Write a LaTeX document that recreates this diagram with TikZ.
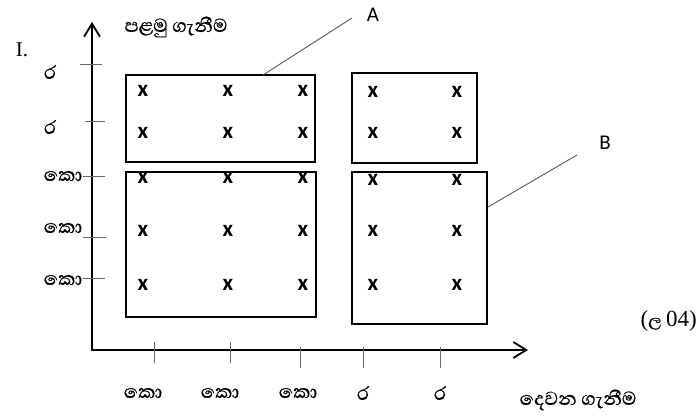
\documentclass[tikz,border=0pt]{standalone}
\usepackage{fontspec}
\setmainfont{Liberation Serif}
\newfontfamily\sinhalafont[Script=Sinhala,FakeBold=0.6]{Abhaya Libre}
\newfontfamily\sansx{Carlito}
\usetikzlibrary{arrows.meta,calc}
\begin{document}
\begin{tikzpicture}[x=1pt,y=-1pt,
  axisline/.style={line width=2pt, -{Straight Barb[length=13pt,width=16pt,line width=1.8pt]}},
  region/.style={draw, line width=1.3pt, rectangle, inner sep=0pt, outer sep=0pt, anchor=north west},
  tickmark/.style={draw=black!60, line width=1pt},
  leader/.style={draw=black!65, line width=0.9pt},
  cross/.style={font=\sansx\fontsize{23}{23}\selectfont\bfseries, inner sep=0pt},
  sinlbl/.style={font=\sinhalafont\fontsize{24}{24}\selectfont, inner sep=0pt},
  letter/.style={font=\sansx\fontsize{21}{21}\selectfont, inner sep=0pt},
  serif/.style={font=\fontsize{21}{21}\selectfont, inner sep=0pt}
]
\useasboundingbox (0,0) rectangle (700,417);

% axes
\coordinate (origin) at (92,350);
\coordinate (ytop) at (92,22);
\coordinate (xend) at (528,350);
\draw[axisline] (origin) -- (ytop);
\draw[axisline, shorten <=-1pt] (origin) -- (xend);

% axis titles
\node[sinlbl] (ytitle) at (176,27) {පළමු ගැනීම};
\node[sinlbl] (xtitle) at (578,400) {දෙවන ගැනීම};
\node[serif] (qnum) at (22,50) {I.};
\node[serif, font=\fontsize{23}{23}\selectfont, anchor=east] (marks) at (697,321)
  {({\sinhalafont\fontsize{21}{21}\selectfont ල}\kern4.5pt04)};

% y-axis ticks and labels
\foreach \name/\y/\xa/\xb/\ly/\txt/\lx in {
  y1/65/80/102/72/ර/50,
  y2/121/85/105/127/ර/50,
  y3/176/83/105/176/කො/63,
  y4/237/83/106/228/කො/63,
  y5/278/83/105/280/කො/63}{
  \coordinate (\name a) at (\xa,\y);
  \coordinate (\name b) at (\xb,\y);
  \draw[tickmark] (\name a) -- (\name b);
  \node[sinlbl] (\name lbl) at (\lx,\ly) {\txt};
}

% x-axis ticks and labels
\foreach \name/\x/\ya/\yb/\lx/\txt in {
  x1/154/342/363/143/කො,
  x2/230/342/363/220/කො,
  x3/300/347/368/298/කො,
  x4/363/347/368/363/ර,
  x5/440/347/368/440/ර}{
  \coordinate (\name a) at (\x,\ya);
  \coordinate (\name b) at (\x,\yb);
  \draw[tickmark] (\name a) -- (\name b);
  \node[sinlbl] (\name lbl) at (\lx,393) {\txt};
}

% sample-space regions
\node[region, minimum width=189pt, minimum height=87pt] (boxA) at (126,75) {};
\node[region, minimum width=125pt, minimum height=90pt] (boxC) at (352,73) {};
\node[region, minimum width=190pt, minimum height=145pt] (boxD) at (126,172) {};
\node[region, minimum width=135pt, minimum height=152pt] (boxB) at (352,172) {};

% outcomes
\foreach \c/\x in {1/143,2/228,3/303}{
  \foreach \r/\y in {1/91,2/133}{
    \node[cross] (pA\c\r) at (\x,\y) {x};
  }
  \foreach \r/\y in {1/178,2/231,3/285}{
    \node[cross] (pD\c\r) at (\x,\y) {x};
  }
}
\foreach \c/\x in {1/373,2/457}{
  \foreach \r/\y in {1/92,2/133}{
    \node[cross] (pC\c\r) at (\x,\y) {x};
  }
  \foreach \r/\y in {1/180,2/231,3/285}{
    \node[cross] (pB\c\r) at (\x,\y) {x};
  }
}

% event labels with leader lines
\node[letter] (labA) at (373,15) {A};
\node[letter] (labB) at (605,143) {B};
\coordinate (leadA) at (352,18);
\coordinate (leadB) at (577,155);
\draw[leader] ($(boxA.north west)+(137,0)$) -- (leadA);
\draw[leader] ($(boxB.north east)+(1,35)$) -- (leadB);
\end{tikzpicture}
\end{document}
